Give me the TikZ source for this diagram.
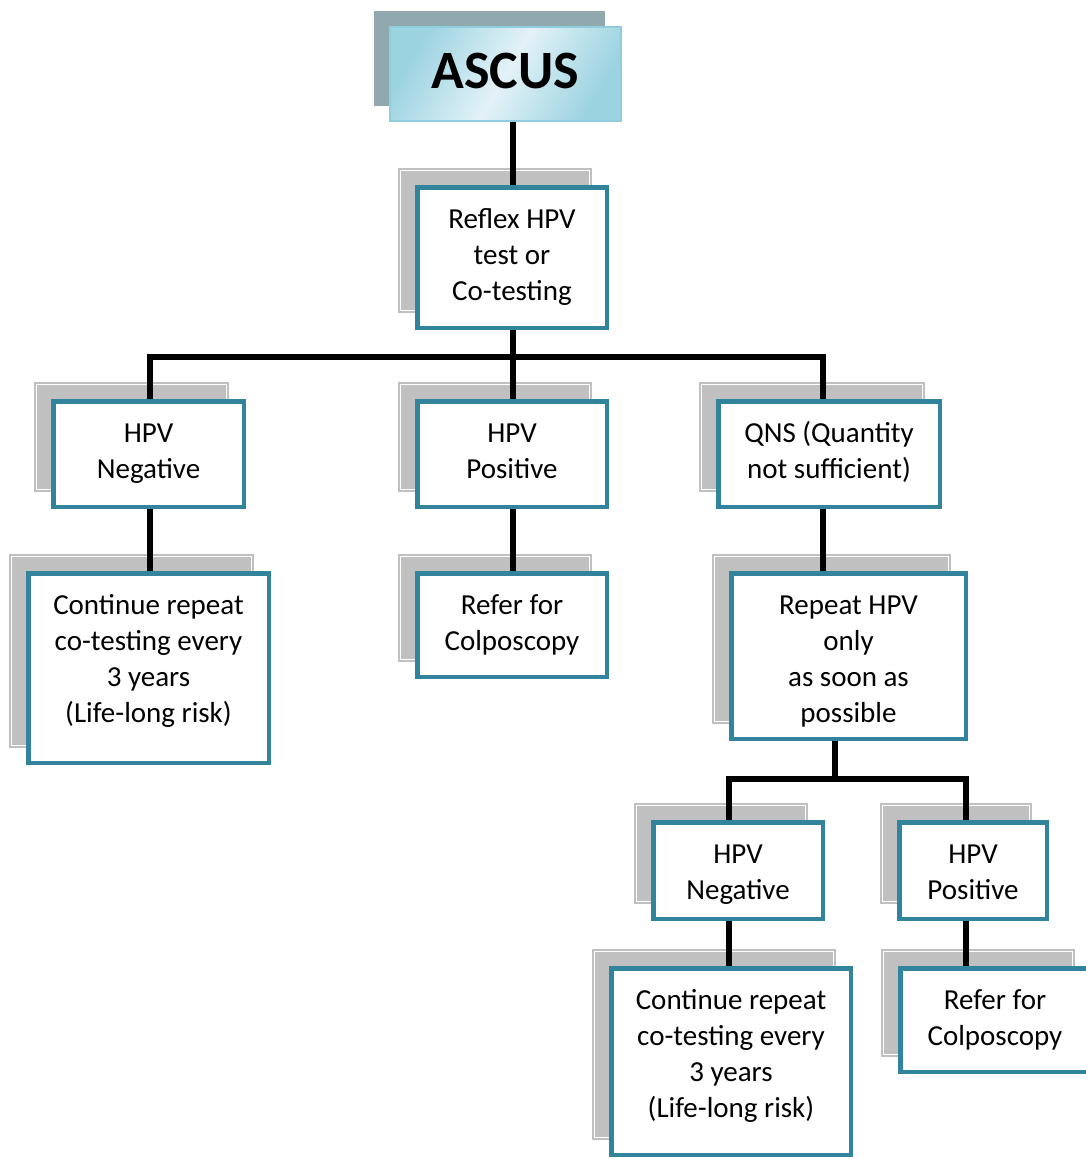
\documentclass[tikz,border=0pt]{standalone}
\usepackage{fontspec}
\setmainfont{Carlito}
\definecolor{teal1}{HTML}{31849B}
\definecolor{shadowgray}{HTML}{C0C0C0}
\definecolor{ascshadow}{HTML}{8FA9AF}
\definecolor{ascdark}{HTML}{9CD3E1}
\definecolor{asclight}{HTML}{E3F2F7}
\definecolor{ascborder}{HTML}{92CDDC}
\pgfdeclarelayer{bg}
\pgfdeclarelayer{mid}
\pgfsetlayers{bg,mid,main}
\tikzset{
  frontbox/.style={draw=teal1, line width=4.5pt, fill=white, inner sep=0pt, outer sep=0pt},
  txt/.style={font=\fontsize{29}{36}\selectfont, align=center, inner sep=0pt, anchor=north},
  conn/.style={line width=6pt, black},
}
\newcommand\flowbox[6]{%
  \begin{pgfonlayer}{bg}
    \fill[shadowgray] ({#2-17},{#3-17}) rectangle ({#4-17},{#5-17});
    \draw[white, line width=1pt] ({#2-17+2.5},{#3-17+2.5}) rectangle ({#4-17-2.5},{#5-17-2.5});
  \end{pgfonlayer}
  \node[frontbox, minimum width={#4-#2-4.5}, minimum height={#5-#3-4.5}] (#1) at ({(#2+#4)/2},{(#3+#5)/2}) {};
  \node[txt] (#1-t) at ([yshift=-16pt]#1.north) {\strut #6};
}
\begin{document}
\begin{tikzpicture}[x=1pt, y=-1pt]
\useasboundingbox (0,0) rectangle (1085,1159);
\begin{pgfonlayer}{bg}
  \fill[white] (0,0) rectangle (1085,1159);
  \fill[ascshadow] (374,11) rectangle (605,106);
\end{pgfonlayer}
\node[draw=ascborder, line width=1.5pt, left color=ascdark, right color=ascdark, middle color=asclight, shading angle=60,
      minimum width=231, minimum height=94, inner sep=0pt, text height=35pt, text depth=7pt,
      font=\bfseries\fontsize{54}{60}\selectfont] (asc) at (505.5,74) {ASCUS};

\flowbox{refl}{415}{185}{609}{330}{Reflex HPV\\test or\\Co-testing}
\flowbox{neg}{51}{399}{246}{509}{HPV\\Negative}
\flowbox{pos}{415}{399}{609}{509}{HPV\\Positive}
\flowbox{qns}{716}{399}{942}{509}{QNS (Quantity\\not sufficient)}
\flowbox{cont}{26}{571}{271}{765}{Continue repeat\\co-testing every\\3 years\\ (Life-long risk)}
\flowbox{refer}{415}{571}{609}{679}{Refer for\\Colposcopy}
\flowbox{rep}{729}{571}{968}{741}{Repeat HPV\\only\\as soon as\\possible}
\flowbox{neg2}{651}{820}{825}{921}{HPV\\Negative}
\flowbox{pos2}{897}{820}{1049}{921}{HPV\\Positive}
\flowbox{cont2}{609}{966}{853}{1157}{Continue repeat\\co-testing every\\3 years\\ (Life-long risk)}
\flowbox{refer2}{898}{966}{1092}{1074}{Refer for\\Colposcopy}

\coordinate (b1) at (513,357);
\coordinate (x1) at (150,0);
\coordinate (x3) at (823,0);
\coordinate (b2) at (835,779);
\coordinate (xL) at (729,0);
\coordinate (xR) at (966,0);
\begin{pgfonlayer}{mid}
  \draw[conn] (asc.south -| b1) -- (refl.north -| b1);
  \draw[conn] (refl.south -| b1) -- (pos.north -| b1);
  \draw[conn] (neg.north -| x1) |- (b1) -| (qns.north -| x3);
  \draw[conn] (neg.south -| x1) -- (cont.north -| x1);
  \draw[conn] (pos.south -| b1) -- (refer.north -| b1);
  \draw[conn] (qns.south -| x3) -- (rep.north -| x3);
  \draw[conn] (rep.south -| b2) -- (b2);
  \draw[conn] (neg2.north -| xL) |- (b2) -| (pos2.north -| xR);
  \draw[conn] (neg2.south -| xL) -- (cont2.north -| xL);
  \draw[conn] (pos2.south -| xR) -- (refer2.north -| xR);
\end{pgfonlayer}
\end{tikzpicture}
\end{document}
